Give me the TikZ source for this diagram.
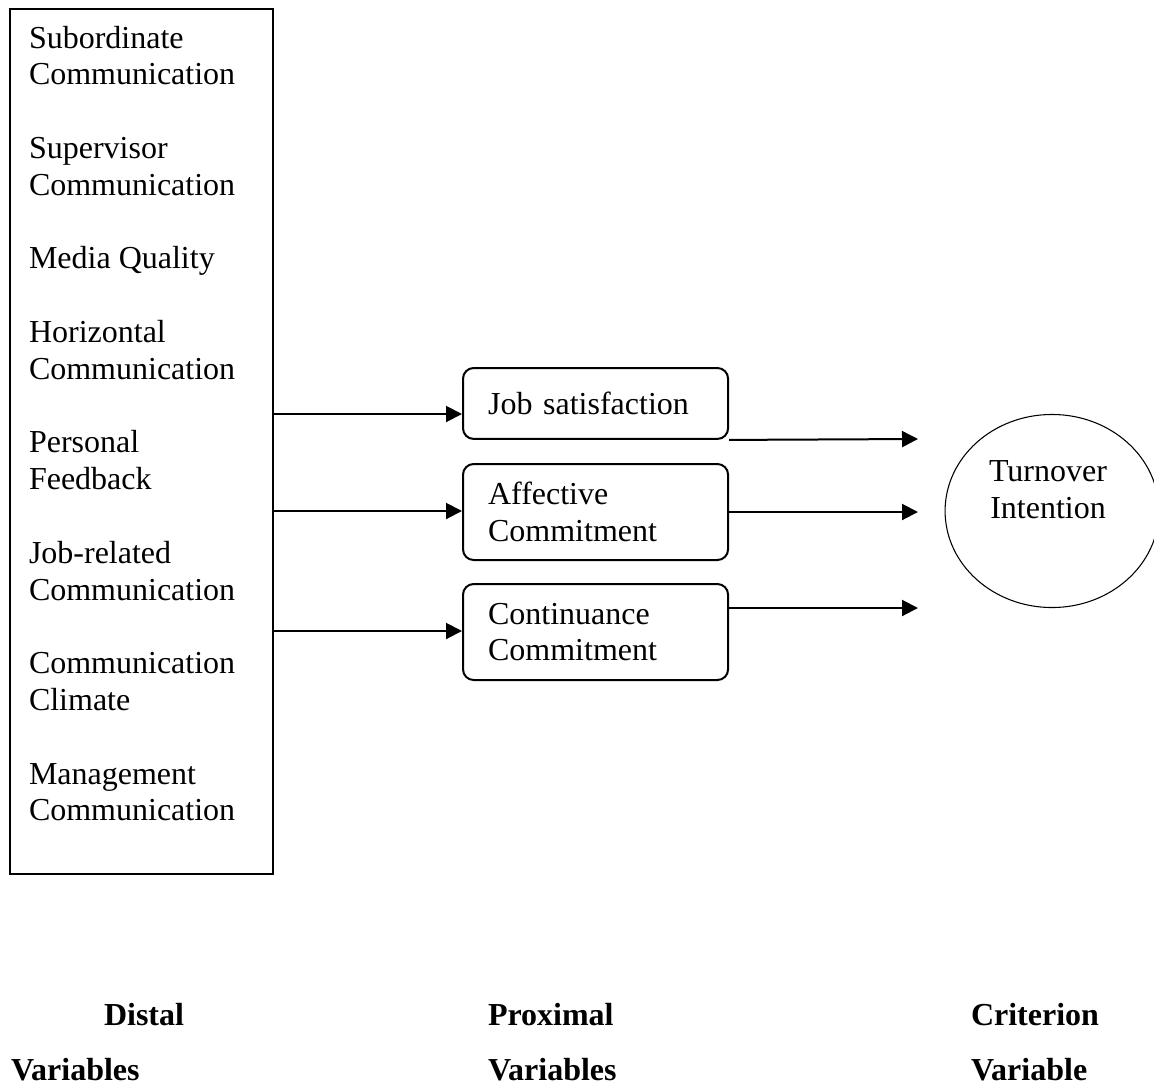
\documentclass[tikz,border=0pt]{standalone}
\usepackage{fontspec}
\setmainfont{Liberation Serif}
\usetikzlibrary{arrows.meta,shapes.geometric}

\begin{document}
\begin{tikzpicture}[x=0.375pt, y=-0.375pt, >={Triangle[length=6pt,width=6pt]},
    font=\fontsize{12}{13.8}\selectfont, line width=0.75pt]
    \tikzstyle{item}=[anchor=base west,align=left,inner sep=0pt]
    \tikzstyle{proxbox}=[rectangle,draw,rounded corners=4pt,anchor=north west,align=left,
        minimum width=99.4pt,text width=80.6pt,inner xsep=9.4pt]
    \tikzstyle{heading}=[anchor=base west,inner sep=0pt,font=\fontsize{12}{13.8}\selectfont\bfseries]
    \useasboundingbox (0,0) rectangle (1154,1084);
    % distal variables (base = last line)
    \node[rectangle,draw,anchor=north west,inner sep=0pt,minimum width=98.6pt,minimum height=324.4pt] (distal) at (9,8) {};
    \foreach \k/\txt in {1/{Subordinate\\Communication}, 4/{Supervisor\\Communication},
        6/{Media Quality}, 9/{Horizontal\\Communication}, 12/{Personal\\Feedback},
        15/{Job-related\\Communication}, 18/{Communication\\Climate}, 21/{Management\\Communication}}
        \node[item] (item\k) at (28,48+36.8*\k) {\txt};
    % proximal variables
    \node[proxbox,minimum height=26.6pt] (jobsat) at (462,367) {Job satisfaction};
    \node[proxbox,minimum height=36pt] (affect) at (462,463) {Affective\\Commitment};
    \node[proxbox,minimum height=36pt] (contin) at (462,583) {Continuance\\Commitment};
    % criterion variable
    \node[ellipse,draw,line width=0.4pt,minimum width=80.2pt,minimum height=72.4pt] (turnover) at (1052,511) {};
    \node[anchor=base,align=center,inner sep=0pt] (turnovertext) at (1048,518) {Turnover\\Intention};
    \coordinate (tipA) at (918,439);
    \coordinate (tipB) at (918,512);
    \coordinate (tipC) at (918,608);
    \draw[->] (distal.east |- 0,414) -- (jobsat.west |- 0,414);
    \draw[->] (distal.east |- 0,511) -- (affect.west |- 0,511);
    \draw[->] (distal.east |- 0,631) -- (contin.west |- 0,631);
    \draw[->] (jobsat.south east) -- (tipA);
    \draw[->] (affect.east |- tipB) -- (tipB);
    \draw[->] (contin.east |- tipC) -- (tipC);
    % headings
    \node[heading] (distalA) at (103,1025) {Distal};
    \node[heading] (distalB) at (10,1080) {Variables};
    \node[heading] (proxA) at (487,1025) {Proximal};
    \node[heading] (proxB) at (487,1080) {Variables};
    \node[heading] (critA) at (970,1025) {Criterion};
    \node[heading] (critB) at (970,1080) {Variable};
\end{tikzpicture}
\end{document}
